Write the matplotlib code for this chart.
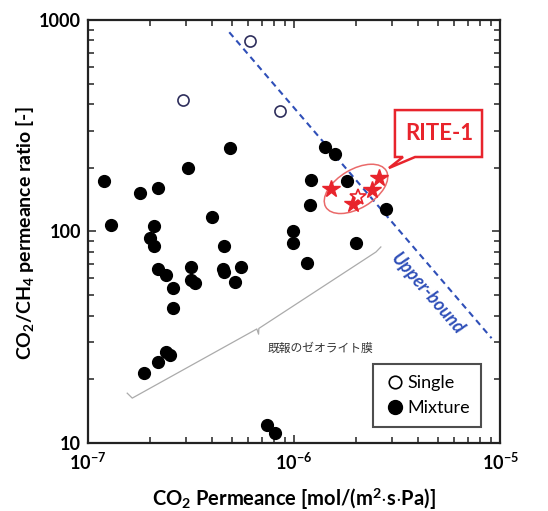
import matplotlib
matplotlib.use("Agg")
import matplotlib.pyplot as plt
from matplotlib.patches import Ellipse, Polygon
from matplotlib.lines import Line2D
from matplotlib.ticker import FixedLocator, LogLocator, NullFormatter

plt.rcParams['font.family'] = ['Lato', 'DejaVu Sans']
plt.rcParams['mathtext.fontset'] = 'custom'
plt.rcParams['mathtext.rm'] = 'Lato'
plt.rcParams['mathtext.bf'] = 'Lato:bold'
plt.rcParams['mathtext.it'] = 'Lato:italic'

# データ
single_x = [6.1e-7, 2.9e-7, 8.55e-7]
single_y = [796, 419, 371]

mixture_x = [4.89e-7, 1.41e-6, 1.59e-6, 3.05e-7, 1.2e-7, 1.21e-6, 1.80e-6, 1.79e-7,
             2.19e-7, 1.20e-6, 2.79e-6, 1.29e-7, 2.09e-7, 3.98e-7, 9.93e-7, 1.99e-7,
             2.09e-7, 4.57e-7, 9.93e-7, 2.0e-6, 2.19e-7, 2.38e-7, 2.58e-7, 2.58e-7,
             3.16e-7, 3.16e-7, 3.3e-7, 4.51e-7, 4.57e-7, 5.51e-7, 5.18e-7, 1.16e-6,
             2.38e-7, 2.5e-7, 2.19e-7, 1.87e-7, 7.36e-7, 8.1e-7]
mixture_y = [249, 252, 232, 199, 174, 175, 173, 152,
             160, 133, 128, 107, 106, 117, 100, 93,
             85, 85, 88, 88, 66.5, 62.3, 53.8, 43.3,
             67.8, 58.7, 56.9, 66.5, 64.6, 67.8, 57.9, 71.3,
             27.0, 26.1, 24.2, 21.4, 12.2, 11.2]

rite_x = [1.52e-6, 1.94e-6, 2.40e-6, 2.59e-6]
rite_y = [159, 135, 157, 179]
rite_open_x = [2.04e-6]
rite_open_y = [146]

bound_x = [4.85e-7, 9.1e-6]
bound_y = [875, 31.3]

xticks = [1e-7, 1e-6, 1e-5]
xticklabels = [r'$\mathbf{10^{-7}}$', r'$\mathbf{10^{-6}}$', r'$\mathbf{10^{-5}}$']
yticks = [10, 100, 1000]
yticklabels = ['10', '100', '1000']

red = '#e8242c'
blue = '#2f4fb8'

fig = plt.figure(figsize=(5.48, 5.11), dpi=100)
ax = fig.add_axes([0.1606, 0.1331, 0.7518, 0.8278])
ax.set_xscale('log')
ax.set_yscale('log')
ax.set_xlim(1e-7, 1e-5)
ax.set_ylim(10, 1000)

# upper-bound
ax.plot(bound_x, bound_y, color=blue, lw=1.5, ls=(0, (3, 2.2)), zorder=2)
ax.text(4.45e-6, 50.6, 'Upper-bound', color=blue, fontsize=13, fontweight='bold',
        fontstyle='italic', rotation=-49, ha='center', va='center')

ax.plot(mixture_x, mixture_y, 'o', color='black', ms=8.5, zorder=3)
ax.plot(single_x, single_y, 'o', mfc='white', mec='#2e2e5c', mew=1.2, ms=8, zorder=3)

# RITE-1
fig.canvas.draw()
cx, cy = ax.transAxes.inverted().transform(ax.transData.transform((2.0e-6, 159)))
ax.add_patch(Ellipse((cx, cy), 0.17, 0.092, angle=30, transform=ax.transAxes,
                     fill=False, ec='#ea6a6a', lw=1.1, zorder=4))
ax.plot(rite_x, rite_y, '*', color=red, ms=13, zorder=5)
ax.plot(rite_open_x, rite_open_y, '*', mfc='white', mec=red, mew=1.2, ms=12, zorder=5)

callout = [(3.09e-6, 375), (8.18e-6, 375), (8.18e-6, 225), (3.87e-6, 225),
           (2.89e-6, 199.5), (3.38e-6, 225), (3.09e-6, 225)]
ax.add_patch(Polygon(callout, closed=True, fc='white', ec=red, lw=1.8, zorder=6))
ax.text(5.05e-6, 292, 'RITE-1', color=red, fontsize=16, fontweight='bold',
        ha='center', va='center', zorder=7)

# 既報のゼオライト膜 の括弧
brace_x = [1.55e-7, 1.64e-7, 6.6e-7, 6.73e-7, 6.75e-7, 2.5e-6, 2.64e-6]
brace_y = [17.2, 16.3, 34.6, 32.7, 34.8, 80, 84.5]
ax.plot(brace_x, brace_y, color='#ababab', lw=0.9, zorder=2)
ax.text(1.34e-6, 28.1, '既報のゼオライト膜', fontsize=8.5, color='#333333',
        family=['Noto Sans CJK JP', 'DejaVu Sans'], ha='center', va='center')

# 軸
for s in ax.spines.values():
    s.set_linewidth(1.6)
    s.set_color('#222222')
ax.xaxis.set_major_locator(FixedLocator(xticks))
ax.set_xticklabels(xticklabels)
ax.yaxis.set_major_locator(FixedLocator(yticks))
ax.set_yticklabels(yticklabels)
ax.xaxis.set_minor_locator(LogLocator(base=10, subs=range(2, 10)))
ax.yaxis.set_minor_locator(LogLocator(base=10, subs=range(2, 10)))
ax.xaxis.set_minor_formatter(NullFormatter())
ax.yaxis.set_minor_formatter(NullFormatter())
ax.tick_params(which='both', direction='in', top=True, right=True, width=1.2, color='#333333')
ax.tick_params(which='major', length=6)
ax.tick_params(which='minor', length=4)
ax.tick_params(axis='x', which='major', pad=6, labelsize=13)
ax.tick_params(axis='y', which='major', pad=5, labelsize=13)
for lab in ax.get_yticklabels():
    lab.set_fontweight('bold')

ax.set_xlabel(r'CO$_\mathbf{2}$ Permeance [mol/(m$^\mathbf{2}$$\cdot$s$\cdot$Pa)]',
              fontsize=14.5, fontweight='bold', va='center')
ax.xaxis.set_label_coords(0.5, -0.132)
ax.set_ylabel(r'CO$_\mathbf{2}$/CH$_\mathbf{4}$ permeance ratio [-]',
              fontsize=14, fontweight='bold', va='center')
ax.yaxis.set_label_coords(-0.153, 0.496)

handles = [Line2D([], [], ls='none', marker='o', mfc='white', mec='black', mew=1.2, ms=9),
           Line2D([], [], ls='none', marker='o', color='black', ms=10)]
leg = ax.legend(handles, ['Single', 'Mixture'], loc='lower right',
                bbox_to_anchor=(0.953, 0.038), borderaxespad=0, fontsize=13,
                frameon=True, fancybox=False, handletextpad=0.1, handlelength=1.2,
                borderpad=0.6, labelspacing=0.5)
leg.get_frame().set_edgecolor('#222222')
leg.get_frame().set_linewidth(1.5)

fig.savefig('out.png', dpi=100)
